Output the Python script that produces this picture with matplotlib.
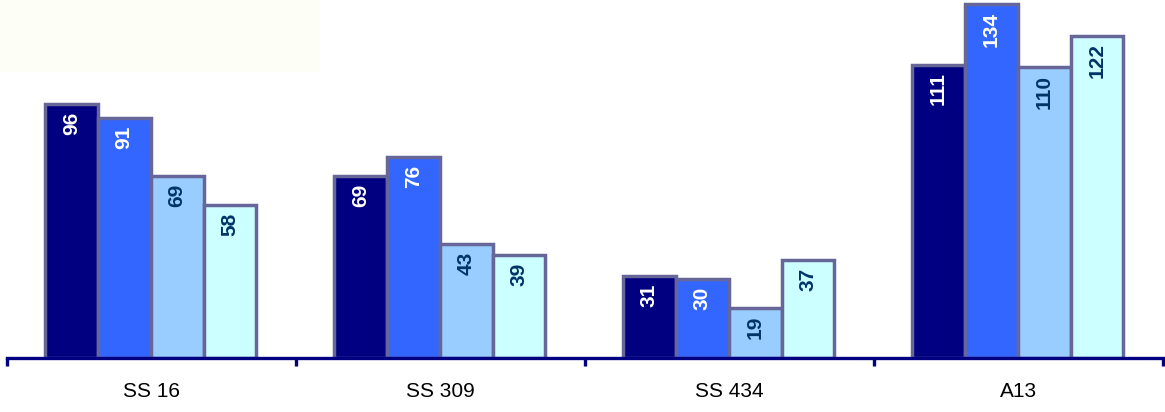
import matplotlib
matplotlib.use("Agg")
import matplotlib.pyplot as plt
import numpy as np
from matplotlib.patches import Rectangle

categories = ["SS 16", "SS 309", "SS 434", "A13"]
series_a = [96, 69, 31, 111]
series_b = [91, 76, 30, 134]
series_c = [69, 43, 19, 110]
series_d = [58, 39, 37, 122]

series = [series_a, series_b, series_c, series_d]
fills = ["#000080", "#3366FF", "#99CCFF", "#CCFFFF"]
label_colors = ["white", "white", "#003366", "#003366"]

plt.rcParams['font.family'] = ['Liberation Sans', 'DejaVu Sans']

fig = plt.figure(figsize=(11.65, 4.12), dpi=100)
fig.patches.append(Rectangle((0, 1 - 72/412), 320/1165, 72/412, transform=fig.transFigure,
                             facecolor="#FDFFF7", edgecolor="none", zorder=0))
ax = fig.add_axes([7/1165, 1 - 358/412, 1156/1165, 358/412])
ax.patch.set_alpha(0)

x = np.arange(len(categories))
bw = 0.183
offsets = (np.arange(4) - 1.5) * bw
for i, vals in enumerate(series):
    bars = ax.bar(x + offsets[i] - 0.003, vals, width=bw, color=fills[i], edgecolor="#666699",
                  linewidth=2.5, zorder=2)
    for b, v in zip(bars, vals):
        ax.annotate(str(v), (b.get_x() + b.get_width()/2, v), xytext=(0, -5.5),
                    textcoords="offset points", rotation=90, ha="center", va="top",
                    fontsize=15, fontweight="bold", color=label_colors[i], zorder=3)

ax.set_xlim(-0.5, 3.5)
ax.set_ylim(0, 135.5)
for s in ["top", "right", "left"]:
    ax.spines[s].set_visible(False)
ax.spines["bottom"].set_color("#000080")
ax.spines["bottom"].set_linewidth(2.4)
ax.spines["bottom"].set_zorder(4)
ax.set_yticks([])
ax.set_xticks(x)
ax.set_xticklabels(categories, fontsize=15)
ax.tick_params(axis="x", which="major", length=0, pad=17)
ax.set_xticks(np.arange(-0.5, 4, 1), minor=True)
ax.tick_params(axis="x", which="minor", length=6, width=2.4, color="#000080", direction="out")

fig.savefig("out.png", dpi=100)
